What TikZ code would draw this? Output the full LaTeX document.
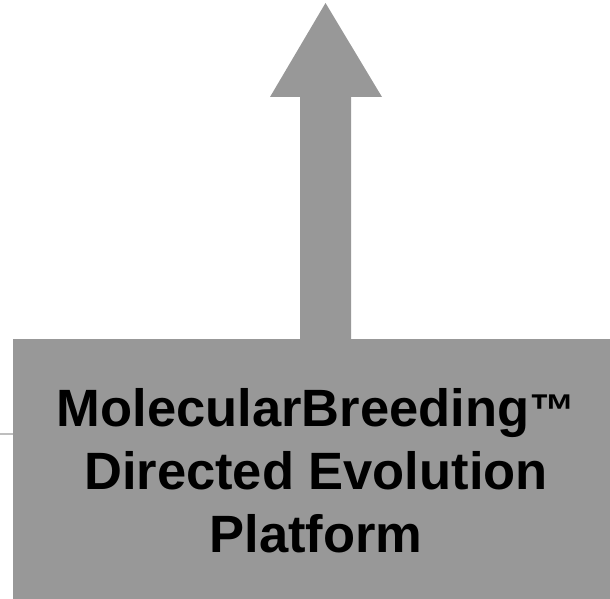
\documentclass[tikz,border=0pt]{standalone}
\usepackage{fontspec}
\setmainfont{Liberation Sans}
\definecolor{boxgray}{RGB}{152,152,152}
\definecolor{linegray}{RGB}{190,190,190}
\tikzset{
  boxshape/.style={fill=boxgray, draw=none, inner sep=0pt, minimum width=602pt, minimum height=262pt, anchor=north west},
  boxtext/.style={font=\bfseries\fontsize{52.5}{63}\selectfont, align=center, inner sep=0pt, anchor=north, text=black},
  arrowshape/.style={fill=boxgray, draw=none},
  thinline/.style={draw=linegray, line width=2pt}
}
\begin{document}
\begin{tikzpicture}[x=1pt,y=1pt]
\useasboundingbox (0,0) rectangle (610,-599);
% upward arrow
\fill[arrowshape] (300,-340) -- (300,-97) -- (270,-97) -- (325.5,-3) -- (382,-97) -- (351,-97) -- (351,-340) -- cycle;
% box
\node[boxshape] (box) at (13,-339) {};
\node[boxtext] (label) at (316,-388.5) {MolecularBreeding{\fontsize{46}{63}\selectfont ™}\\Directed Evolution\\Platform};
% left connector stub
\coordinate (stub) at (0,-434);
\draw[thinline] (stub) -- (box.west |- stub);
\end{tikzpicture}
\end{document}
